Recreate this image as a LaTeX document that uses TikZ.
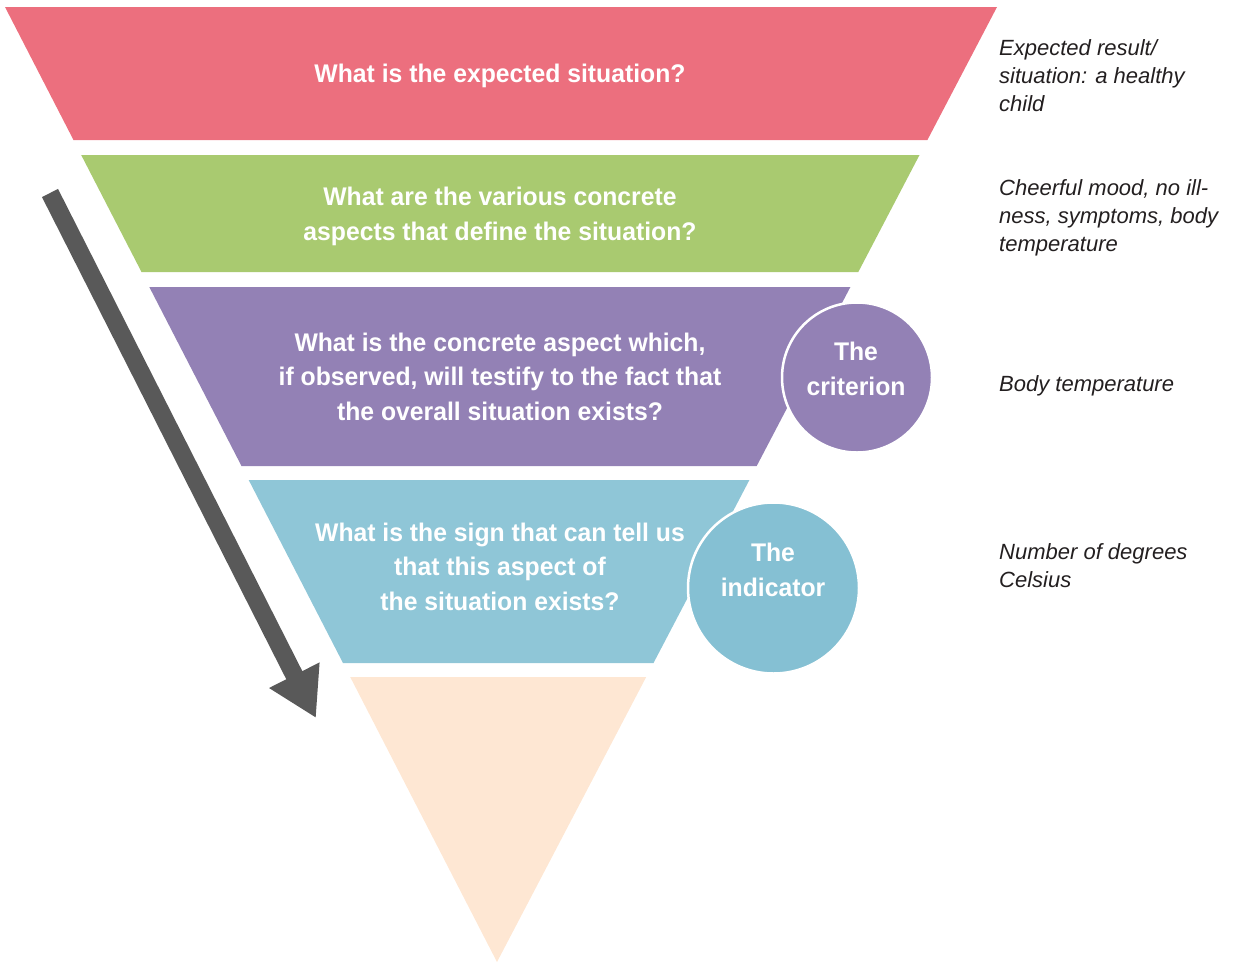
\documentclass[tikz,border=0pt]{standalone}
\usepackage{fontspec}
\usetikzlibrary{arrows.meta}
\newfontfamily\bandfont[FakeStretch=0.97]{Liberation Sans}
\newfontfamily\notefont{Liberation Sans}
\definecolor{bandred}{HTML}{EC6F7E}
\definecolor{bandgreen}{HTML}{A9CA70}
\definecolor{bandpurple}{HTML}{9381B5}
\definecolor{bandblue}{HTML}{8FC6D7}
\definecolor{discblue}{HTML}{85C0D3}
\definecolor{bandpeach}{HTML}{FEE7D3}
\definecolor{arrowgrey}{HTML}{595959}
\definecolor{notetext}{HTML}{231F20}
\begin{document}
\begin{tikzpicture}[x=1pt,y=-1pt,
  bandtext/.style={text=white,align=center,inner sep=0pt,
    font=\bandfont\bfseries\fontsize{25.5}{34.5}\selectfont},
  disc/.style={circle,draw=white,line width=2.5pt,minimum size=#1,inner sep=0pt},
  note/.style={anchor=north west,align=left,inner sep=0pt,text=notetext,
    font=\notefont\itshape\fontsize{22}{28}\selectfont}]
\useasboundingbox (0,0) rectangle (1235,962);

% funnel bands
\fill[bandred]    (5,7) -- (997,7) -- (927.4,140) -- (73.5,140) -- cycle;
\fill[bandgreen]  (81.2,155) -- (919.5,155) -- (858.3,272) -- (141.5,272) -- cycle;
\fill[bandpurple] (149.3,287) -- (850.4,287) -- (756.7,466) -- (241.5,466) -- cycle;
\fill[bandblue]   (248.7,480) -- (749.4,480) -- (653.5,663) -- (343.0,663) -- cycle;
\fill[bandpeach]  (350.2,677) -- (646.2,677) -- (497,962) -- cycle;

% questions
\node[bandtext] (q1) at (500,76) {What is the expected situation?};
\node[bandtext] (q2) at (500,216.5) {What are the various concrete\\aspects that define the situation?};
\node[bandtext] (q3) at (500,376.5) {What is the concrete aspect which,\\if observed, will testify to the fact that\\the overall situation exists?};
\node[bandtext] (q4) at (500,566.5) {What is the sign that can tell us\\that this aspect of\\the situation exists?};

% criterion and indicator discs
\node[disc=150pt,fill=bandpurple] (crit) at (857,377.5) {};
\node[bandtext] (critlabel) at (856,369) {The\\criterion};
\node[disc=171pt,fill=discblue] (ind) at (773.5,588) {};
\node[bandtext] (indlabel) at (773,570) {The\\indicator};

% downward arrow
\coordinate (arrowstart) at (50,193);
\coordinate (arrowtip) at (316,718);
\draw[arrowgrey,line width=18pt,-{Triangle[width=53pt,length=48pt]}]
  (arrowstart) -- (arrowtip);

% notes on the right
\node[note] (n1) at (999,39) {Expected result/\\situation: a healthy\\child};
\node[note] (n2) at (999,179) {Cheerful mood, no ill-\\ness, symptoms, body\\temperature};
\node[note] (n3) at (999,375) {Body temperature};
\node[note] (n4) at (999,543) {Number of degrees\\Celsius};
\end{tikzpicture}
\end{document}
